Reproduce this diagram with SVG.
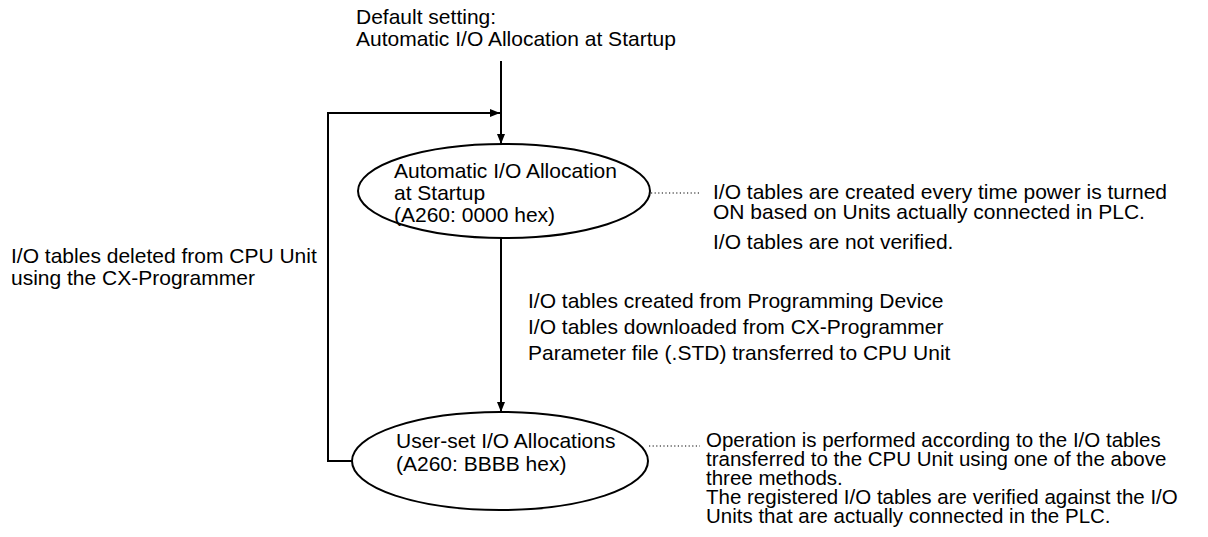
<svg xmlns="http://www.w3.org/2000/svg" width="1208" height="537" viewBox="0 0 1208 537">
<style>
text{font-family:"Liberation Sans",Arial,sans-serif;font-size:21px;fill:#000}
.note2 text{font-size:20.5px}
.ln{fill:none;stroke:#000;stroke-width:2}
.dot{fill:none;stroke:#000;stroke-width:1.2;stroke-dasharray:1.2 2.4}
.el{fill:#fff;stroke:#000;stroke-width:2}
</style>
<defs>
<marker id="ah" markerUnits="userSpaceOnUse" markerWidth="10" markerHeight="8" refX="10" refY="4" orient="auto">
<path d="M0,0 L10,4 L0,8 Z" fill="#000"/>
</marker>
</defs>
<rect width="1208" height="537" fill="#fff"/>
<g id="default-label">
<text x="356" y="24">Default setting:</text>
<text x="356" y="46">Automatic I/O Allocation at Startup</text>
</g>
<g id="connectors">
<path class="ln" d="M501,61 L501,144" marker-end="url(#ah)"/>
<path class="ln" d="M501,238 L501,412" marker-end="url(#ah)"/>
<path class="ln" d="M352,461 L328,461 L328,113 L500,113" marker-end="url(#ah)"/>
<path class="dot" d="M651,193 L700,193"/>
<path class="dot" d="M649,446 L700,446"/>
</g>
<g id="node-auto">
<ellipse class="el" cx="504" cy="191" rx="146" ry="47"/>
<text x="394" y="178">Automatic I/O Allocation</text>
<text x="394" y="200">at Startup</text>
<text x="394" y="222">(A260: 0000 hex)</text>
</g>
<g id="node-user">
<ellipse class="el" cx="500" cy="461" rx="148" ry="49"/>
<text x="396" y="448">User-set I/O Allocations</text>
<text x="396" y="471">(A260: BBBB hex)</text>
</g>
<g id="note-auto">
<text x="713" y="199">I/O tables are created every time power is turned</text>
<text x="713" y="219">ON based on Units actually connected in PLC.</text>
<text x="713" y="249">I/O tables are not verified.</text>
</g>
<g id="transition-label">
<text x="528" y="308">I/O tables created from Programming Device</text>
<text x="528" y="334">I/O tables downloaded from CX-Programmer</text>
<text x="528" y="360">Parameter file (.STD) transferred to CPU Unit</text>
</g>
<g id="loop-label">
<text x="11" y="263">I/O tables deleted from CPU Unit</text>
<text x="11" y="285">using the CX-Programmer</text>
</g>
<g id="note-user" class="note2">
<text x="706" y="447">Operation is performed according to the I/O tables</text>
<text x="706" y="466">transferred to the CPU Unit using one of the above</text>
<text x="706" y="485">three methods.</text>
<text x="706" y="504">The registered I/O tables are verified against the I/O</text>
<text x="706" y="523">Units that are actually connected in the PLC.</text>
</g>
</svg>
